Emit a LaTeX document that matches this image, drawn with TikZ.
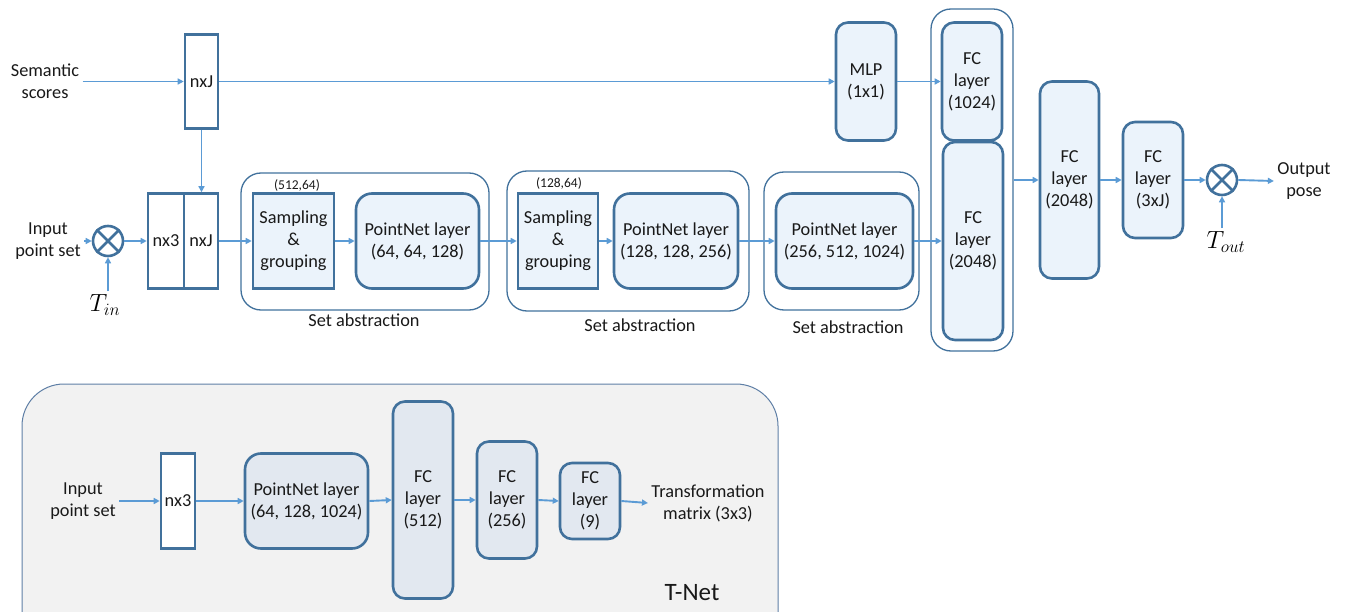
\documentclass[tikz,border=0pt]{standalone}
\usepackage{fontspec}
\setmainfont{Carlito}
\usetikzlibrary{arrows.meta}
\definecolor{bd}{HTML}{41719C}
\definecolor{fl}{HTML}{EBF3FB}
\definecolor{ar}{HTML}{5B9BD5}
\definecolor{tfill}{HTML}{E2E8F0}
\definecolor{tbg}{HTML}{F2F2F2}
\definecolor{tbd}{HTML}{5F7FA6}
\begin{document}
\begin{tikzpicture}[x=1pt,y=-1pt,
  txt/.style={font=\fontsize{18.3}{22}\selectfont, align=center, text=black!90},
  small/.style={font=\fontsize{13.5}{15}\selectfont, text=black!90},
  blk/.style={txt, draw=bd, line width=2.6pt, fill=fl, inner sep=0pt},
  rblk/.style={blk, rounded corners=12pt},
  sqw/.style={blk, fill=white},
  sqf/.style={blk},
  tblk/.style={rblk, fill=tfill},
  grp/.style={draw=bd, line width=1.3pt, rounded corners=20pt, inner sep=0pt},
  arr/.style={draw=ar, line width=1.9pt, -{Triangle[length=6pt,width=6pt]}},
  otm/.style={circle, draw=bd, line width=2.6pt, minimum size=30pt, inner sep=0pt},
  mth/.style={font=\fontsize{25}{28}\selectfont},
]
\useasboundingbox (0,0) rectangle (1348,612);

% T-Net background
\node[draw=tbd, line width=1pt, fill=tbg, rounded corners=42pt, minimum width=756pt, minimum height=270pt, inner sep=0pt] (tnet) at (400,519) {};

% ---------- top row ----------
\node[txt] (sem) at (45,81.5) {Semantic\\scores};
\node[sqw, minimum width=33pt, minimum height=94pt] (nxJa) at (201.5,81.5) {nxJ};
\node[rblk, minimum width=60pt, minimum height=118pt] (mlp) at (866,81.5) {MLP\\(1x1)};
\node[grp, minimum width=82pt, minimum height=342pt] (fcg) at (972,180) {};
\node[rblk, minimum width=60pt, minimum height=118pt] (fc1024) at (972,81.5) {FC\\layer\\(1024)};
\node[rblk, minimum width=60pt, minimum height=198pt] (fc2048a) at (973,241) {FC\\layer\\(2048)};
\node[rblk, minimum width=59pt, minimum height=197pt] (fc2048b) at (1069.5,180) {FC\\layer\\(2048)};
\node[rblk, minimum width=60pt, minimum height=116pt] (fc3xj) at (1153,180) {FC\\layer\\(3xJ)};
\node[otm] (ot2) at (1222,180) {};
\draw[bd, line width=2.6pt] (ot2.north west) -- (ot2.south east) (ot2.north east) -- (ot2.south west);
\node[txt] (out) at (1304,181) {Output\\pose};
\node[mth] (tout) at (1226,242) {$T_{out}$};

% ---------- middle row ----------
\node[txt] (inp) at (48,241) {Input\\point set};
\node[otm] (ot1) at (108,241) {};
\draw[bd, line width=2.6pt] (ot1.north west) -- (ot1.south east) (ot1.north east) -- (ot1.south west);
\node[mth] (tin) at (105,305) {$T_{in}$};
\node[sqw, minimum width=36pt, minimum height=95pt] (nx3) at (166,241) {nx3};
\node[sqw, minimum width=34pt, minimum height=95pt] (nxJb) at (201,241) {nxJ};

\node[grp, minimum width=248pt, minimum height=137pt] (sa1) at (365,241.5) {};
\node[sqf, minimum width=81pt, minimum height=95pt] (sg1) at (293.5,241) {Sampling\\\&\\grouping};
\node[rblk, minimum width=123pt, minimum height=95pt, rounded corners=16pt] (pn1) at (417.5,241) {PointNet layer\\(64, 64, 128)};
\node[small] (k1) at (297,185) {(512,64)};
\node[txt] (l1) at (364,320) {Set abstraction};

\node[grp, minimum width=242pt, minimum height=140pt] (sa2) at (628,241) {};
\node[sqf, minimum width=80pt, minimum height=95pt] (sg2) at (558,241) {Sampling\\\&\\grouping};
\node[rblk, minimum width=124pt, minimum height=95pt, rounded corners=16pt] (pn2) at (676,241) {PointNet layer\\(128, 128, 256)};
\node[small] (k2) at (559,183) {(128,64)};
\node[txt] (l2) at (640,325) {Set abstraction};

\node[grp, minimum width=155pt, minimum height=138pt] (sa3) at (841.5,241) {};
\node[rblk, minimum width=137pt, minimum height=95pt, rounded corners=16pt] (pn3) at (844.5,241) {PointNet layer\\(256, 512, 1024)};
\node[txt] (l3) at (848,327) {Set abstraction};

% ---------- arrows ----------
\draw[arr] (sem.east) -- (nxJa.west);
\draw[arr] (nxJa.east) -- (mlp.west);
\draw[arr] (mlp.east) -- (fc1024.west);
\draw[arr] (nxJa.south) -- (nxJb.north -| nxJa.south);
\draw[arr] (inp.east) -- (ot1.west);
\draw[arr] (tin.north -| ot1.south) -- (ot1.south);
\draw[arr] (ot1.east) -- (nx3.west);
\draw[arr] (nxJb.east) -- (sg1.west);
\draw[arr] (sg1.east) -- (pn1.west);
\draw[arr] (pn1.east) -- (sg2.west);
\draw[arr] (sg2.east) -- (pn2.west);
\draw[arr] (pn2.east) -- (pn3.west);
\draw[arr] (pn3.east) -- (fc2048a.west);
\draw[arr] (fcg.east) -- (fc2048b.west);
\draw[arr] (fc2048b.east) -- (fc3xj.west);
\draw[arr] (fc3xj.east) -- (ot2.west);
\draw[arr] (tout.north -| ot2.south) -- (ot2.south);
\draw[arr] (ot2.east) -- (out.west);

% ---------- T-Net ----------
\node[txt] (tinp) at (83,501) {Input\\point set};
\node[sqw, minimum width=34pt, minimum height=95pt] (tn3) at (178,501) {nx3};
\node[tblk, minimum width=123pt, minimum height=95pt, rounded corners=16pt] (tpn) at (306.5,501) {PointNet layer\\(64, 128, 1024)};
\node[tblk, minimum width=60pt, minimum height=197pt] (tfc1) at (423,500) {FC\\layer\\(512)};
\node[tblk, minimum width=60pt, minimum height=117pt] (tfc2) at (507,500) {FC\\layer\\(256)};
\node[tblk, minimum width=60pt, minimum height=76pt] (tfc3) at (590,501) {FC\\layer\\(9)};
\node[txt] (ttr) at (708,503) {Transformation\\matrix (3x3)};
\node[font=\fontsize{25}{28}\selectfont, text=black!90] (tlab) at (692,593) {T-Net};

\draw[arr] (tinp.east) -- (tn3.west);
\draw[arr] (tn3.east) -- (tpn.west);
\draw[arr] (tpn.east) -- (tfc1.west);
\draw[arr] (tfc1.east) -- (tfc2.west);
\draw[arr] (tfc2.east) -- (tfc3.west);
\draw[arr] (tfc3.east) -- (ttr.west);
\end{tikzpicture}
\end{document}
